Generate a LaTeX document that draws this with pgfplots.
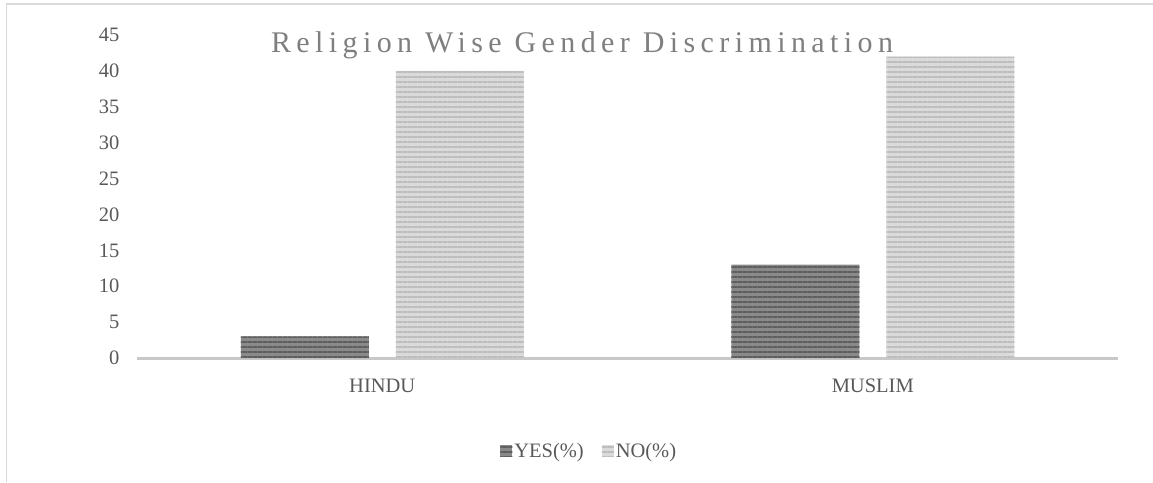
\documentclass[border=0pt]{standalone}
\usepackage{fontspec}
\setmainfont{Liberation Serif}
\newfontfamily\titlefont[LetterSpace=18]{Liberation Serif}
\usepackage{pgfplots}
\pgfplotsset{compat=1.18}
\usetikzlibrary{patterns.meta}
\definecolor{txt}{HTML}{595959}
\definecolor{ttl}{HTML}{7F7F7F}
\definecolor{yesfill}{HTML}{8A8A8A}
\definecolor{yesline}{HTML}{5E5E5E}
\definecolor{nofill}{HTML}{DADADA}
\definecolor{noline}{HTML}{BDBDBD}
\definecolor{axline}{HTML}{C8C8C8}
\definecolor{frame}{HTML}{D9D9D9}
\begin{document}
\begin{tikzpicture}[x=1pt,y=1pt]
\useasboundingbox (0,0) rectangle (1153,482);
\draw[frame, line width=1.5pt] (6.5,0) -- (6.5,478) -- (1153,478);
\begin{axis}[
  at={(137pt,124pt)}, anchor=south west,
  scale only axis, width=981pt, height=323pt,
  xmin=-0.5, xmax=1.5, ymin=0, ymax=45,
  xtick={0,1}, xticklabels={HINDU,MUSLIM},
  ytick={0,5,...,45},
  major tick length=0pt,
  axis x line*=bottom, axis y line*=left,
  y axis line style={draw=none},
  x axis line style={draw=axline, line width=3pt},
  ticklabel style={font=\fontsize{20.5}{24}\selectfont, text=txt},
  /pgf/number format/assume math mode=true,
  xticklabel style={anchor=base, yshift=-34pt},
  yticklabel style={xshift=-14pt},
  ybar, bar width=128pt,
  legend columns=2,
  legend style={at={(0.461,-0.288)}, anchor=center, draw=none, fill=none,
    font=\fontsize{20.5}{24}\selectfont, text=txt,
    /tikz/every odd column/.append style={column sep=0pt},
    /tikz/every even column/.append style={column sep=16pt}},
  legend image code/.code={\fill[#1] (0pt,-5.5pt) rectangle (12pt,6.5pt);},
  clip=false,
]
\addplot[bar shift=-77.5pt, draw=none, fill=yesfill,
  postaction={pattern={Lines[angle=0,distance=5pt,line width=1.8pt]}, pattern color=yesline}]
  coordinates {(0,3) (1,13)};
\addplot[bar shift=77.5pt, draw=none, fill=nofill,
  postaction={pattern={Lines[angle=0,distance=5pt,line width=1.8pt]}, pattern color=noline}]
  coordinates {(0,40) (1,42)};
\legend{YES(\%), NO(\%)}
\end{axis}
\node[anchor=base, text=ttl, inner sep=0pt] at (582,429) {\titlefont\fontsize{30}{36}\selectfont Religion Wise Gender Discrimination};
\end{tikzpicture}
\end{document}
